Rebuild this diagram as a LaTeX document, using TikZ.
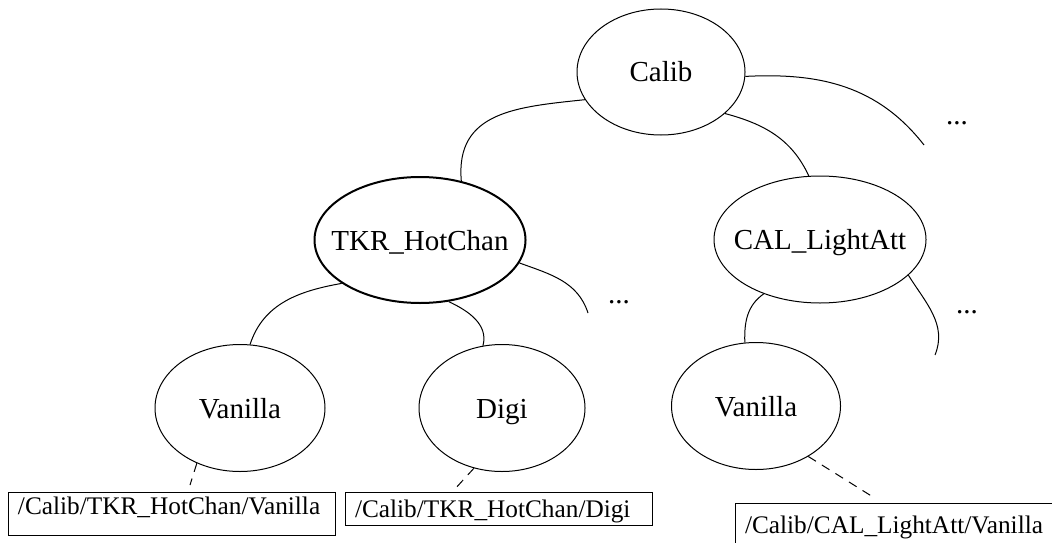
\documentclass[tikz,border=0pt]{standalone}
\usepackage{fontspec}
\setmainfont{Liberation Serif}
\usetikzlibrary{shapes}

\begin{document}
\begin{tikzpicture}[x=0.5pt, y=0.5pt, line width=0.5pt,
    font=\fontsize{14.5}{17}\selectfont,
    every label/.style = {text height=10pt, text depth=0pt},
    bubble/.style = {ellipse, draw, inner sep=0pt, minimum height=63.5pt},
    pathbox/.style = {draw, inner xsep=5pt, inner ysep=0pt, align=left,
      font=\fontsize{12.65}{15}\selectfont},
    more/.style = {anchor=base, inner sep=0pt},
    link/.style = {dash pattern=on 4.5pt off 3.5pt}]
\useasboundingbox (0,0) rectangle (1052,542);
\clip (0,0) rectangle (1052,542);
% folders
\node[bubble, minimum width=84pt, minimum height=63pt, label=center:Calib] (calib) at (661,470) {};
\node[bubble, minimum width=105.5pt, minimum height=63pt, line width=1pt,
  label=center:TKR\_HotChan] (tkr) at (420,302) {};
\node[bubble, minimum width=106pt, label=center:CAL\_LightAtt] (cal) at (820,302.5) {};
\node[bubble, minimum width=85pt, label=center:Vanilla] (van1) at (240,134) {};
\node[bubble, minimum width=83pt, label=center:Digi] (digi) at (502,134) {};
\node[bubble, minimum width=84.5pt, label=center:Vanilla] (van2) at (756,136) {};
% more children
\node[more] (more1) at (957,417.5) {...};
\node[more] (more2) at (619,238.5) {...};
\node[more] (more3) at (967,228.5) {...};
\coordinate (e1) at (924,397);
\coordinate (e2) at (588,229);
\coordinate (e3) at (935,187);
% full names
\node[pathbox, text width=153.5pt, text height=11.15pt, text depth=10.35pt] (box1) at (171.5,28.5)
  {/Calib/TKR\_HotChan/Vanilla};
\node[pathbox, text width=143.5pt, text height=12.5pt, text depth=4pt] (box2) at (498.5,33.5)
  {/Calib/TKR\_HotChan/Digi};
\node[pathbox, text width=151pt, text height=15pt, text depth=7pt] (box3) at (896,17)
  {/Calib/CAL\_LightAtt/Vanilla};
\coordinate (t1) at (190,57);
\coordinate (t2) at (454,52);
\coordinate (t3) at (873,45);
% branches
\draw (calib.200) to[out=186, in=95, looseness=1.2] (tkr.55);
\draw (calib.327) to[out=-15, in=115] (cal.100);
\draw (calib.357) to[out=3, in=128] (e1);
\draw (tkr.209) to[out=190, in=72] (van1.81);
\draw (tkr.295) to[out=-25, in=75] (digi.107);
\draw (tkr.347) to[out=-20, in=108] (e2);
\draw (cal.224) to[out=215, in=92] (van2.100);
\draw (cal.338) to[out=-58, in=68] (e3);
\draw[link] (van1.232) -- (t1);
\draw[link] (digi.245) -- (t2);
\draw[link] (van2.-44) -- (t3);
\end{tikzpicture}
\end{document}
